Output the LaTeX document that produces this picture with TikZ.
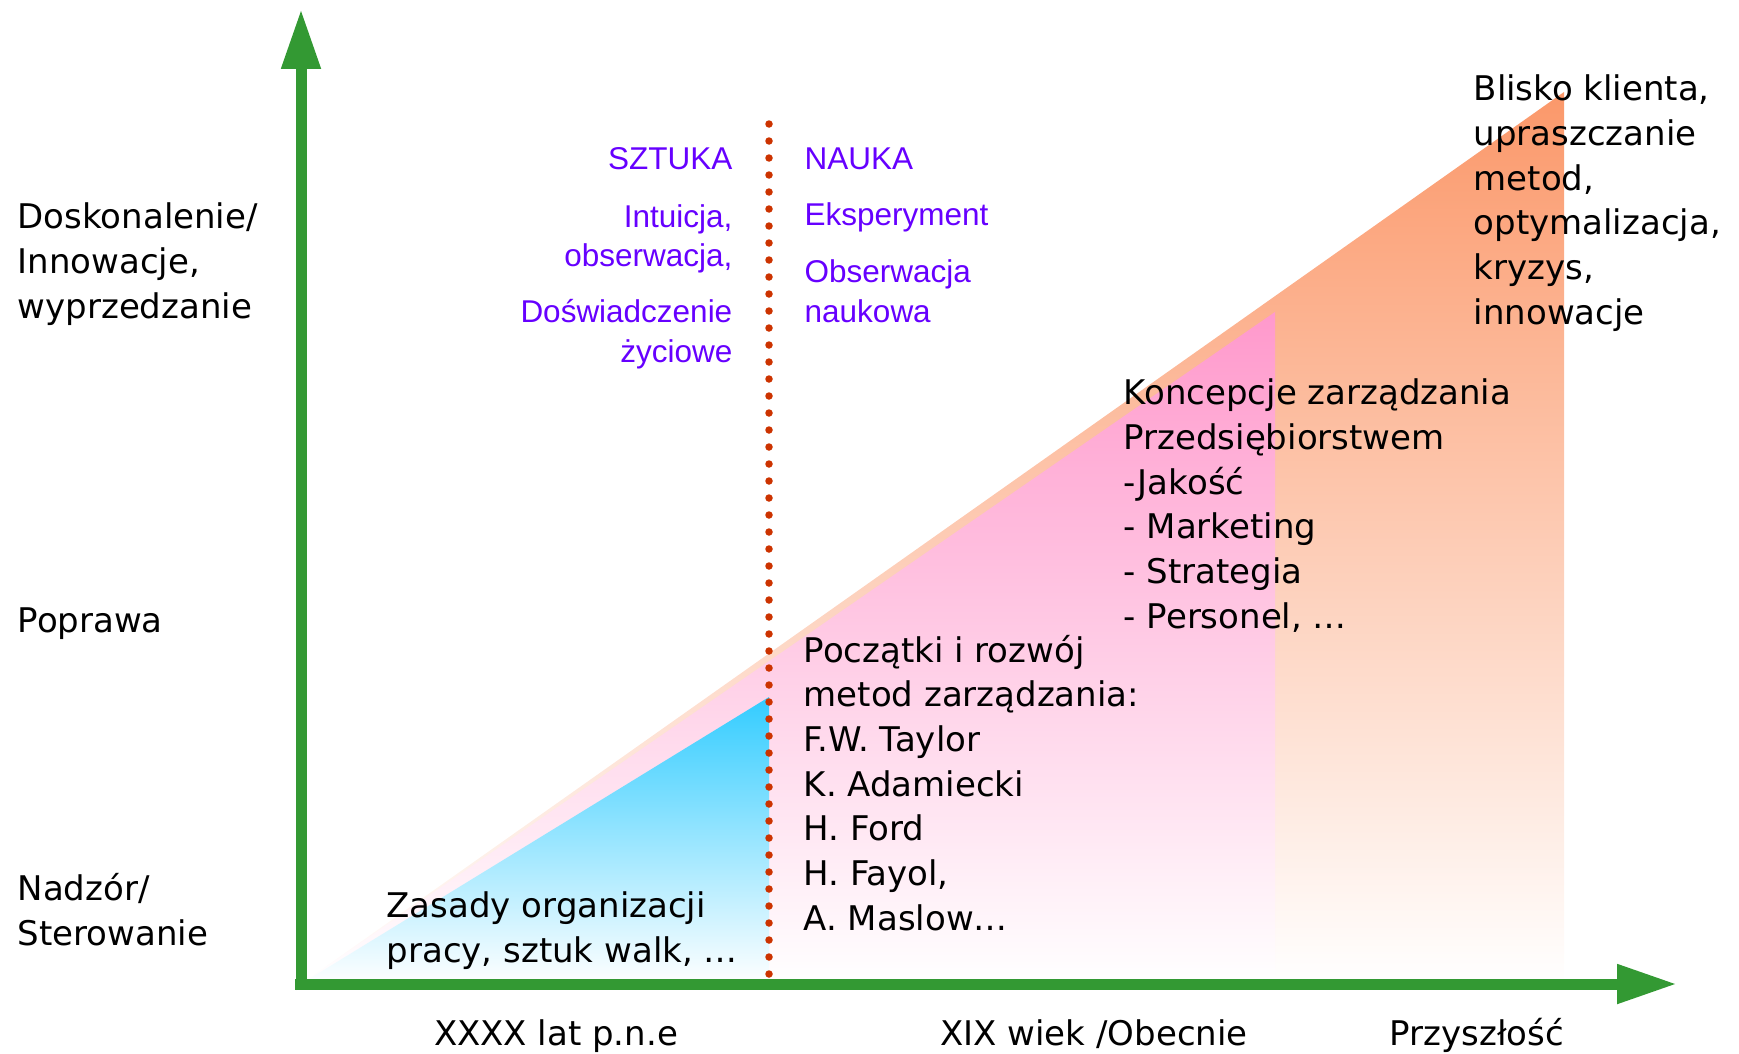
\documentclass[tikz,border=0pt]{standalone}
\usepackage{fontspec}
\setmainfont{DejaVu Sans}
\newfontfamily\notefont{Liberation Sans}
\usetikzlibrary{arrows.meta}

\definecolor{axisgreen}{RGB}{51,153,51}
\definecolor{dotred}{RGB}{204,51,0}
\definecolor{notepurple}{RGB}{102,0,255}
\definecolor{futureorange}{RGB}{251,152,106}
\definecolor{conceptpink}{RGB}{255,153,204}
\definecolor{artblue}{RGB}{51,204,255}

\tikzset{
  axis/.style={line width=1.1mm, axisgreen, -{Triangle[length=6mm,width=3.7mm]}},
  stage/.style={anchor=base west, align=left, inner sep=0pt,
    font=\fontsize{9.67pt}{12.7pt}\selectfont},
  note/.style={inner sep=0pt, text=notepurple,
    font=\notefont\fontsize{8.96pt}{11.1pt}\selectfont},
}

\begin{document}
\begin{tikzpicture}
\useasboundingbox (-3.01,-0.69) rectangle (14.38,9.84);

\def\futuretriangle{(0,0) -- (12.63,8.92) -- (12.63,0) -- cycle}
\def\concepttriangle{(0,0) -- (9.74,6.72) -- (9.74,0) -- cycle}
\def\arttriangle{(0,0) -- (4.68,2.87) -- (4.68,0) -- cycle}

\shade[top color=futureorange, bottom color=white] \futuretriangle;
\shade[top color=conceptpink, bottom color=white] \concepttriangle;
\shade[top color=artblue, bottom color=white] \arttriangle;

% axes
\draw[axis] (0,-0.06) -- (0,9.75);
\draw[axis] (-0.06,0) -- (13.76,0);

% border between art and science
\draw[dotred, line width=0.75mm, line cap=round, dash pattern=on 0pt off 1.7mm]
  (4.68,0.10) -- (4.68,8.62);

% levels (multi-line nodes sit on their last baseline)
\node[stage] (perfect) at (-2.84,6.66) {Doskonalenie/\\Innowacje,\\wyprzedzanie};
\node[stage] (improve) at (-2.84,3.52) {Poprawa};
\node[stage] (control) at (-2.84,0.39) {Nadzór/\\Sterowanie};

% art and science
\node[note, anchor=base east] (art) at (4.32,8.14) {SZTUKA};
\node[note, anchor=base east, align=right] (intuition) at (4.32,7.17) {Intuicja,\\obserwacja,};
\node[note, anchor=base east, align=right] (experience) at (4.32,6.22) {Doświadczenie\\życiowe};
\node[note, anchor=base west] (science) at (5.03,8.14) {NAUKA};
\node[note, anchor=base west] (experiment) at (5.03,7.58) {Eksperyment};
\node[note, anchor=base west, align=left] (observation) at (5.03,6.62) {Obserwacja\\naukowa};

% stages
\node[stage] (ancient) at (0.85,0.22) {Zasady organizacji\\pracy, sztuk walk, …};
\node[stage] (methods) at (5.02,0.54) {Początki i rozwój\\metod zarządzania:\\F.W. Taylor\\K. Adamiecki\\H. Ford\\H. Fayol,\\A. Maslow…};
\node[stage] (concepts) at (8.22,3.56) {Koncepcje zarządzania\\Przedsiębiorstwem\\-Jakość\\- Marketing\\- Strategia\\- Personel, …};
\node[stage] (future) at (11.72,6.60) {Blisko klienta,\\upraszczanie\\metod,\\optymalizacja,\\kryzys,\\innowacje};

% time
\node[stage, anchor=base] (bc) at (2.55,-0.61) {XXXX lat p.n.e};
\node[stage, anchor=base] (today) at (7.93,-0.61) {XIX wiek /Obecnie};
\node[stage, anchor=base] (ahead) at (11.76,-0.61) {Przyszłość};
\end{tikzpicture}
\end{document}
